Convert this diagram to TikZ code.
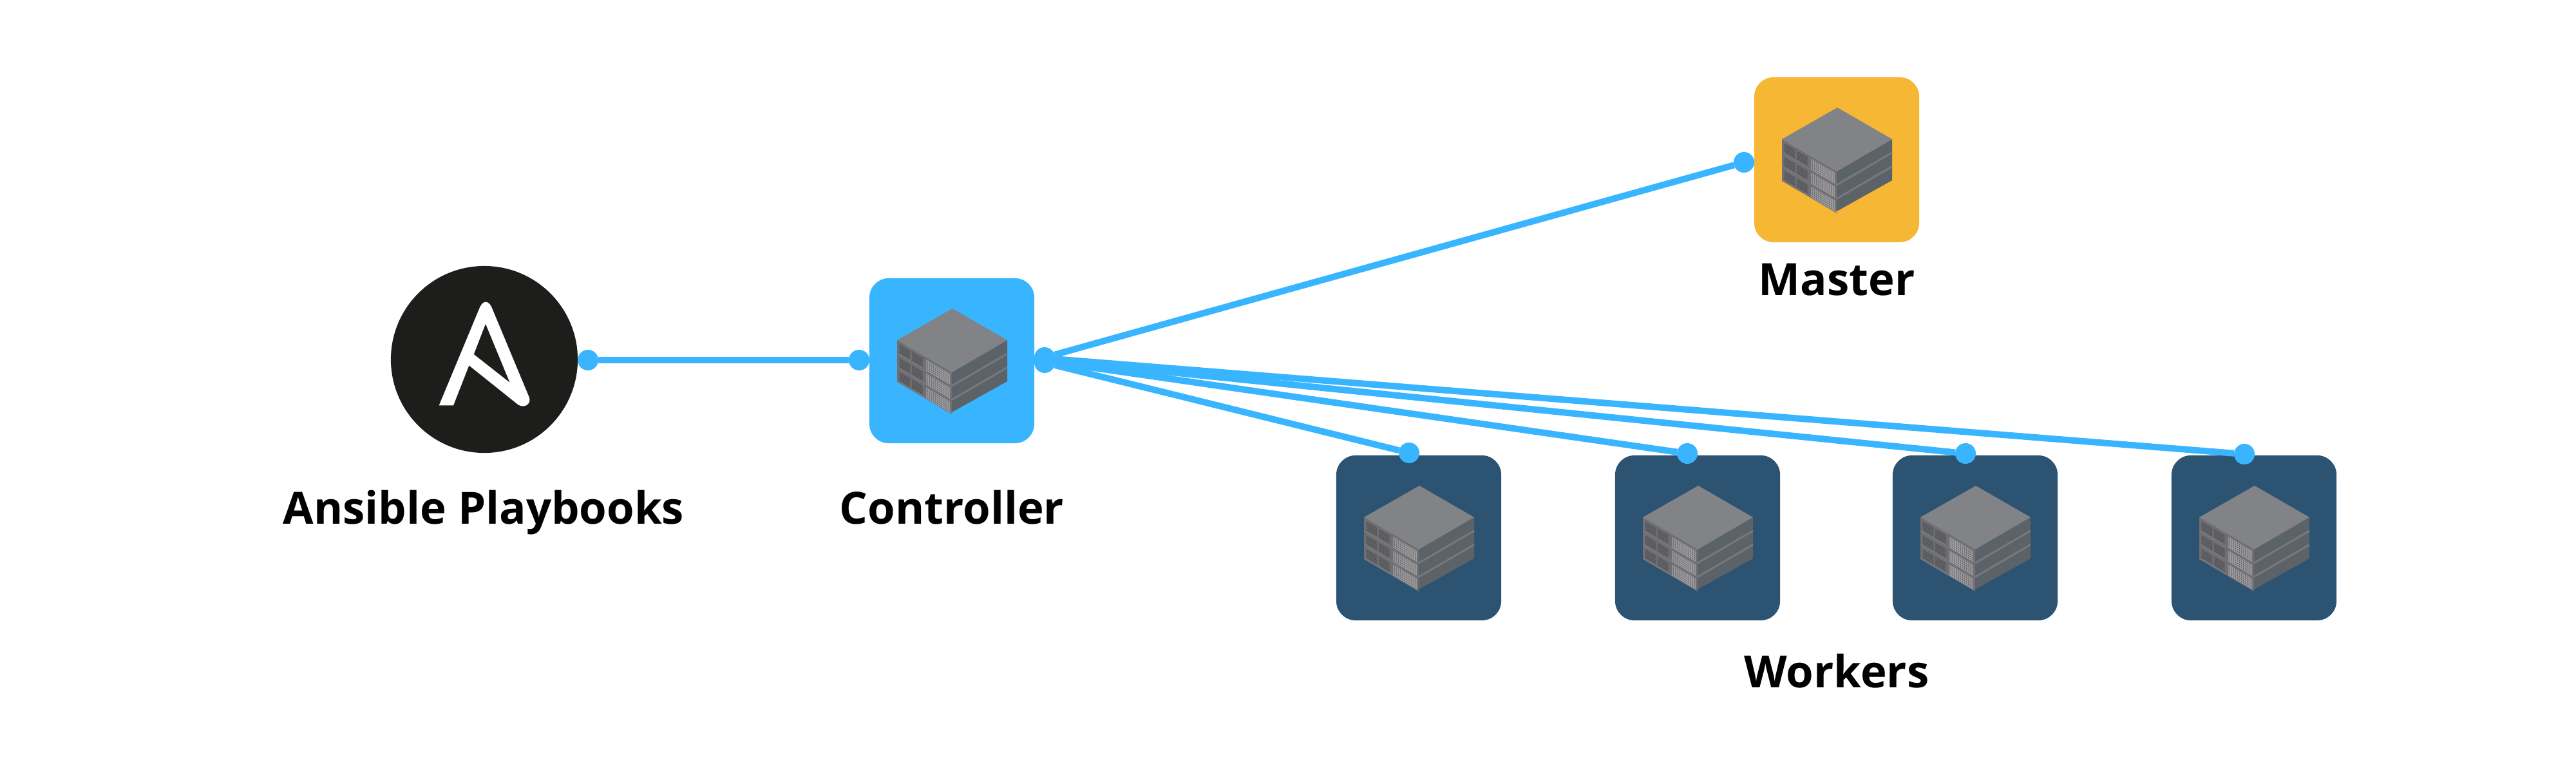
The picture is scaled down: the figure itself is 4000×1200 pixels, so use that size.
\documentclass[tikz,border=0pt]{standalone}
\usepackage{fontspec}
\setmainfont{Open Sans}
\definecolor{linkblue}{HTML}{39B5FF}
\definecolor{masteryellow}{HTML}{F6B735}
\definecolor{workerblue}{HTML}{2C5372}
\definecolor{logoblack}{HTML}{1D1D1B}
\definecolor{srvtop}{HTML}{828386}
\definecolor{srvright}{HTML}{5B6268}
\definecolor{srvleft}{HTML}{6F6F73}
\definecolor{srvband}{HTML}{78787C}
\definecolor{srvslat}{HTML}{525458}
\definecolor{srvgrille}{HTML}{A0A0A2}
\definecolor{srvhole}{HTML}{626266}
\tikzset{
  box/.style={rectangle,rounded corners=0.3cm,minimum size=2.56cm,inner sep=0pt,outer sep=0pt,fill=#1},
  dot/.style={circle,minimum size=0.32cm,inner sep=0pt,outer sep=0pt,fill=linkblue},
  link/.style={draw=linkblue,line width=0.1cm},
  lbl/.style={anchor=base,inner sep=0pt,font=\fontsize{19.6}{23}\selectfont\bfseries,text=black},
  server/.pic={
    \fill[srvright] (214,96) -- (214,160) -- (128,208) -- (128,146) -- cycle;
    \fill[srvleft] (43,96) -- (128,146) -- (128,208) -- (43,160) -- cycle;
    \fill[srvtop] (129,47) -- (214,96) -- (128,146) -- (43,96) -- cycle;
    \draw[srvband,line width=0.03cm] (128,167) -- (214,117);
    \draw[srvband,line width=0.03cm] (128,188.5) -- (214,138.5);
    \begin{scope}[shift={(43,96)},yslant=-0.588]
      \foreach \L in {0,21.5,43}{
        \fill[srvband] (0,\L+20) rectangle (85,\L+22);
        \fill[srvslat]
          \foreach \S in {5,8.5,12,15.5}{
            (3.7,\L+\S) rectangle (20.3,\L+\S+2)
            (23,\L+\S) rectangle (39.7,\L+\S+2)
          };
        \fill[srvgrille] (45.3,\L+4) rectangle (82,\L+20.5);
        \fill[srvhole]
          \foreach \C in {0,...,11}{
            \foreach \R in {0,...,4}{
              (46.5+3.0*\C,\L+5+3.1*\R) rectangle ++(1.5,1.8)
            }
          };
      }
    \end{scope}
  }
}
\begin{document}
\begin{tikzpicture}[x=0.01cm,y=-0.01cm]
\useasboundingbox (0,0) rectangle (4000,1200);

% Ansible logo
\node[circle,fill=logoblack,minimum size=2.9cm,inner sep=0pt,outer sep=0pt] (ansible) at (752,558) {};
\fill[white,even odd rule]
  (681.7,629.3) -- (745,477.3) .. controls (750,466) and (758,466) .. (763.3,476.7)
  -- (821.7,616.7) .. controls (826,628) and (812,636) .. (801.7,626)
  -- (728.3,567.3) -- (704,629.3) -- cycle
  (754,502.7) -- (791.7,594) -- (735.7,550) -- cycle;

% Boxes
\node[box=linkblue] (controller) at (1478,560) {};
\node[box=masteryellow] (master) at (2852,248) {};
\node[box=workerblue] (worker1) at (2203,835) {};
\node[box=workerblue] (worker2) at (2636,835) {};
\node[box=workerblue] (worker3) at (3067,835) {};
\node[box=workerblue] (worker4) at (3500,835) {};

% Server icons
\pic at (1350,432) {server};
\pic at (2724,120) {server};
\pic at (2075,707) {server};
\pic at (2508,707) {server};
\pic at (2939,707) {server};
\pic at (3372,707) {server};

% Connection dots
\node[dot] (ansibleout) at (913,559) {};
\node[dot] (ctrlin) at (1334,559) {};
\node[dot] (ctrloutm) at (1622,555) {};
\node[dot] (ctrlouta) at (1622,556) {};
\node[dot] (ctrloutb) at (1622,558) {};
\node[dot] (ctrloutc) at (1622,560) {};
\node[dot] (ctrloutd) at (1622,563) {};
\node[dot] (masterin) at (2708,252) {};
\node[dot] (w1in) at (2188,703) {};
\node[dot] (w2in) at (2620,704) {};
\node[dot] (w3in) at (3052,704) {};
\node[dot] (w4in) at (3485,705) {};

% Connectors
\draw[link] (ansibleout) -- (ctrlin);
\draw[link] (ctrloutm) -- (masterin);
\draw[link] (ctrloutd) -- (w1in);
\draw[link] (ctrloutc) -- (w2in);
\draw[link] (ctrloutb) -- (w3in);
\draw[link] (ctrlouta) -- (w4in);

% Labels
\node[lbl] (lblansible) at (751,813) {Ansible Playbooks};
\node[lbl] (lblcontroller) at (1478,813) {Controller};
\node[lbl] (lblmaster) at (2852,458) {Master};
\node[lbl] (lblworkers) at (2852,1067) {Workers};
\end{tikzpicture}
\end{document}
